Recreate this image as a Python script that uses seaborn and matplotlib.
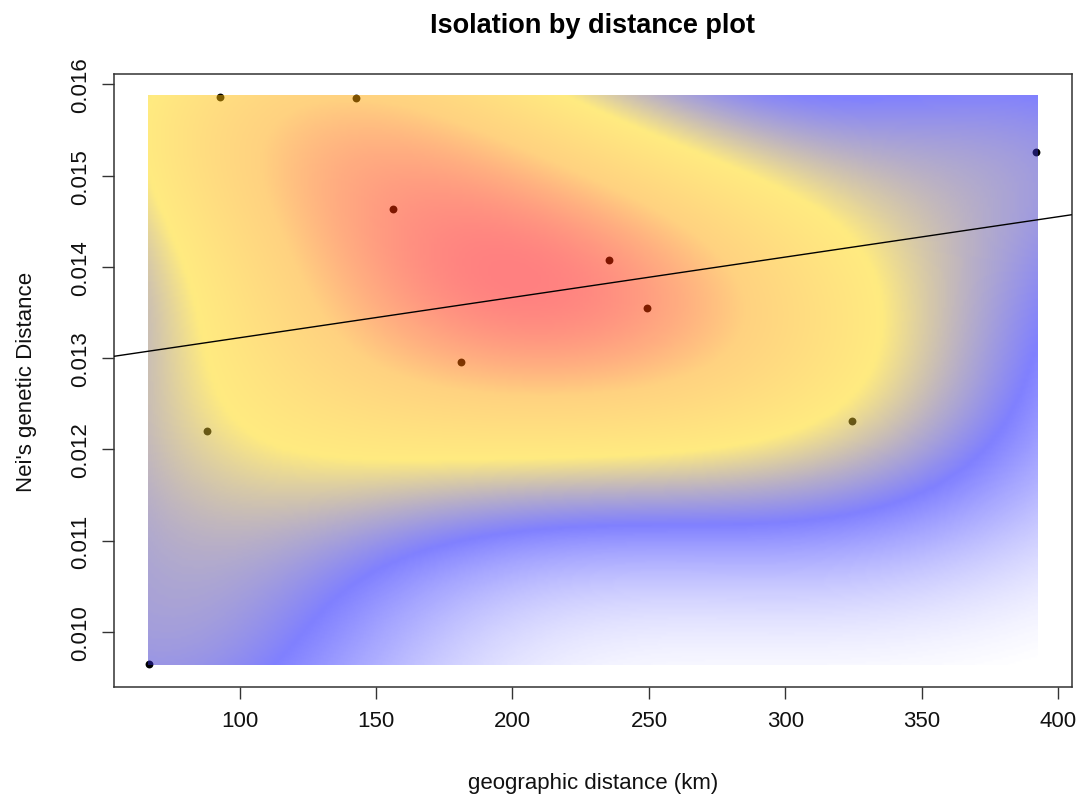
import numpy as np
import pandas as pd
import matplotlib
matplotlib.use("Agg")
import matplotlib.pyplot as plt
from matplotlib.colors import LinearSegmentedColormap
import seaborn as sns

# ---- data ----
geo_km = [67.0, 88.2, 92.9, 142.8, 156.2, 181.3, 235.5, 249.3, 324.3, 391.8]
nei_dist = [0.009646, 0.012202, 0.015866, 0.015847, 0.014631,
            0.012958, 0.014075, 0.013554, 0.012312, 0.015263]
x_ticks = [100, 150, 200, 250, 300, 350, 400]
y_ticks = [0.010, 0.011, 0.012, 0.013, 0.014, 0.015, 0.016]
palette_colors = ["white", "blue", "gold", "orange", "red"]

df = pd.DataFrame({"geo": geo_km, "gen": nei_dist})

# ---- 2D kernel density like MASS::kde2d ----
def bandwidth_nrd(v):
    v = np.asarray(v, float)
    q1, q3 = np.quantile(v, [0.25, 0.75])
    h = (q3 - q1) / 1.34
    return 4 * 1.06 * min(np.std(v, ddof=1), h) * len(v) ** (-1 / 5)

def kde2d(x, y, n=300):
    x = np.asarray(x, float); y = np.asarray(y, float)
    hx, hy = bandwidth_nrd(x) / 4, bandwidth_nrd(y) / 4
    gx = np.linspace(x.min(), x.max(), n)
    gy = np.linspace(y.min(), y.max(), n)
    ax_ = (gx[:, None] - x[None, :]) / hx
    ay_ = (gy[:, None] - y[None, :]) / hy
    dx = np.exp(-0.5 * ax_ ** 2) / np.sqrt(2 * np.pi)
    dy = np.exp(-0.5 * ay_ ** 2) / np.sqrt(2 * np.pi)
    z = dx @ dy.T / (len(x) * hx * hy)
    return gx, gy, z

gx, gy, z = kde2d(df["geo"], df["gen"], 300)

sns.set_theme(style="ticks")
plt.rcParams["font.family"] = ["Liberation Sans", "DejaVu Sans"]

fig = plt.figure(figsize=(10.84, 8.03), dpi=100)
ax = fig.add_axes([114 / 1084, 1 - 688 / 803, (1071.5 - 114) / 1084, (688 - 75) / 803])

# points (under the semi-transparent density image, as in the original)
sns.scatterplot(data=df, x="geo", y="gen", color="black", s=32, linewidth=0,
                ax=ax, zorder=1)

cmap = LinearSegmentedColormap.from_list("ibd", palette_colors, N=300)
dxg = gx[1] - gx[0]; dyg = gy[1] - gy[0]
ax.imshow(z.T, origin="lower", aspect="auto", cmap=cmap, alpha=0.5,
          extent=[gx[0] - dxg / 2, gx[-1] + dxg / 2, gy[0] - dyg / 2, gy[-1] + dyg / 2],
          interpolation="bilinear", zorder=2)

# R-style axis limits (4% padding)
xr = df["geo"].max() - df["geo"].min()
yr = df["gen"].max() - df["gen"].min()
ax.set_xlim(df["geo"].min() - 0.04 * xr, df["geo"].max() + 0.04 * xr)
ax.set_ylim(df["gen"].min() - 0.04 * yr, df["gen"].max() + 0.04 * yr)

# regression line across the whole plot region
sns.regplot(data=df, x="geo", y="gen", scatter=False, ci=None, truncate=False,
            line_kws={"color": "black", "linewidth": 1.0, "zorder": 3}, ax=ax)
ax.set_xlim(df["geo"].min() - 0.04 * xr, df["geo"].max() + 0.04 * xr)
ax.set_ylim(df["gen"].min() - 0.04 * yr, df["gen"].max() + 0.04 * yr)

ax.set_xticks(x_ticks)
ax.set_xticklabels([str(t) for t in x_ticks])
ax.set_yticks(y_ticks)
ax.set_yticklabels([f"{t:.3f}" for t in y_ticks])
ax.tick_params(axis="both", direction="out", length=8.5, width=1.0,
               color="#333333", labelsize=16, labelcolor="#111111", pad=8)
for lab in ax.get_yticklabels():
    lab.set_rotation(90)
    lab.set_va("center")
    lab.set_ha("right")

for sp in ax.spines.values():
    sp.set_visible(True)
    sp.set_color("#333333")
    sp.set_linewidth(1.1)

ax.set_xlabel("geographic distance (km)", fontsize=16, color="#111111")
ax.set_ylabel("Nei's genetic Distance", fontsize=16, color="#111111")
ax.xaxis.set_label_coords(0.5, -0.138)
ax.yaxis.set_label_coords(-0.080, 0.5)
ax.set_title("Isolation by distance plot", fontsize=19.5, fontweight="bold",
             color="black", pad=30)
ax.grid(False)

fig.savefig("out.png", dpi=100, facecolor="white")
